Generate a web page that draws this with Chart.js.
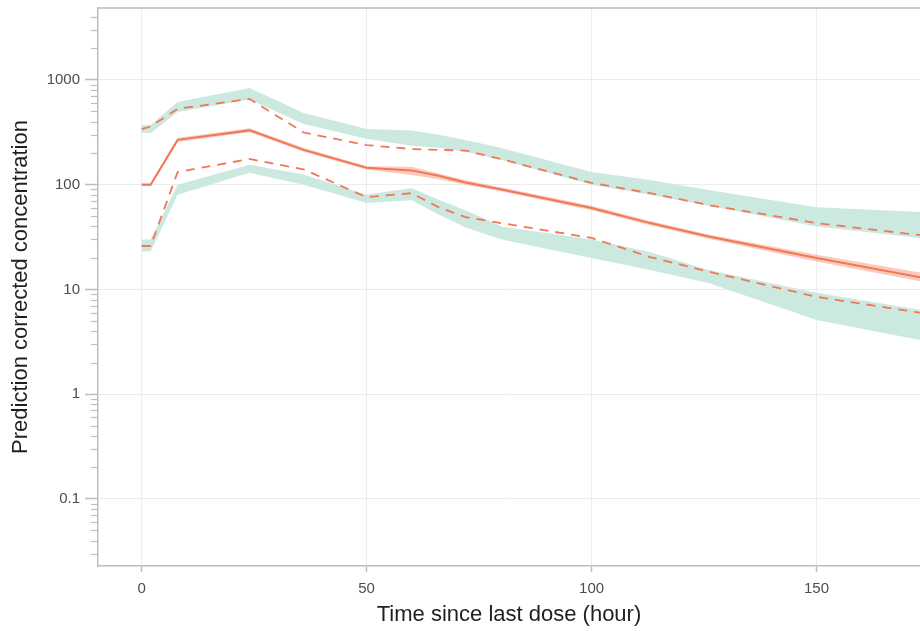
<!DOCTYPE html>
<html><head><meta charset="utf-8">
<script src="https://cdn.jsdelivr.net/npm/chart.js@4.4.1/dist/chart.umd.min.js"></script>
<style>html,body{margin:0;padding:0;background:#fff;overflow:hidden}canvas{display:block}</style>
</head><body>
<canvas id="c" width="920" height="631"></canvas>
<script>
// ---- data ----
const timeBins   = [0, 2, 8, 24, 36, 50, 60, 66, 72, 80, 100, 113, 126, 150, 173];
// observed percentiles (lines)
const obsMedian  = [100, 100, 268, 330, 215, 145, 137, 122, 105, 90, 60, 43, 32, 20, 13.1];
const obsP95     = [340, 360, 530, 659, 315, 239, 219, 215, 212, 175, 104, 83, 64, 43, 33];
const obsP5      = [26, 26, 132, 176, 140, 76, 83, 61, 49, 43, 31, 20.4, 14.8, 8.5, 6.0];
// simulated confidence intervals (shaded bands)
const ciP95Hi    = [372, 372, 617, 840, 484, 340, 330, 300, 267, 224, 132, 111, 89, 61, 55];
const ciP95Lo    = [312, 312, 494, 650, 380, 275, 235, 225, 206, 172, 100, 80, 63, 40, 31];
const ciP5Hi     = [30, 30, 100, 155, 125, 80, 93, 72, 57, 40, 30, 22.8, 15.3, 9.3, 6.4];
const ciP5Lo     = [23, 23, 80, 130, 100, 67, 71, 52, 39, 30, 20, 15.3, 11.5, 5.1, 3.3];
const ciMedHi    = [103, 103, 280, 345, 225, 150, 148, 128, 110, 94, 63, 45, 33.5, 21.5, 14.5];
const ciMedLo    = [97, 97, 255, 318, 206, 140, 124, 113, 100, 86, 57, 41, 30.5, 18.5, 12.0];
// axis ticks
const xTicks       = [0, 50, 100, 150];
const yMajorTicks  = [0.1, 1, 10, 100, 1000];
const yTickLabels  = ['0.1', '1', '10', '100', '1000'];
const yMinorMult   = [2, 3, 4, 5, 6, 7, 8, 9];

const pts = arr => timeBins.map((t, i) => ({x: t, y: arr[i]}));

const GREEN = '#cbe9df';
const ORANGE = '#f07856';
const SALMON = 'rgba(246,160,135,0.55)';
const FONT = '"Liberation Sans", Arial, Helvetica, sans-serif';

const band = (hi, lo, color, hiIndex) => ([
  {data: pts(hi), borderWidth: 0, pointRadius: 0, fill: false, backgroundColor: color, order: 2},
  {data: pts(lo), borderWidth: 0, pointRadius: 0, fill: hiIndex, backgroundColor: color, order: 2}
]);

const datasets = [
  ...band(ciP95Hi, ciP95Lo, GREEN, 0),   // 0,1
  ...band(ciP5Hi, ciP5Lo, GREEN, 2),     // 2,3
  ...band(ciMedHi, ciMedLo, SALMON, 4),  // 4,5
  {data: pts(obsMedian), borderColor: ORANGE, borderWidth: 2, pointRadius: 0, fill: false, order: 0},
  {data: pts(obsP95), borderColor: ORANGE, borderWidth: 1.8, borderDash: [9, 7], pointRadius: 0, fill: false, order: 0},
  {data: pts(obsP5), borderColor: ORANGE, borderWidth: 1.8, borderDash: [9, 7], pointRadius: 0, fill: false, order: 0}
];

const yTickObjs = [];
for (let k = -2; k <= 3; k++) {
  const base = Math.pow(10, k);
  const mi = yMajorTicks.findIndex(v => Math.abs(v - base) < base * 1e-9);
  if (mi >= 0) yTickObjs.push({value: yMajorTicks[mi], major: true, label: yTickLabels[mi]});
  yMinorMult.forEach(m => {
    const v = m * base;
    if (v >= 0.03 && v <= 4500) yTickObjs.push({value: v, major: false, label: ''});
  });
}

const extras = {
  id: 'extras',
  afterDraw(chart) {
    const {ctx, chartArea, scales: {y}} = chart;
    ctx.save();
    ctx.strokeStyle = '#bdbdbd';
    ctx.lineWidth = 1.2;
    y.ticks.forEach(t => {
      if (!t.major) {
        const py = Math.round(y.getPixelForValue(t.value)) + 0.5;
        ctx.beginPath(); ctx.moveTo(chartArea.left - 7, py); ctx.lineTo(chartArea.left, py); ctx.stroke();
      }
    });
    ctx.lineWidth = 1.5;
    ctx.beginPath(); ctx.moveTo(chartArea.left, chartArea.top); ctx.lineTo(chartArea.right, chartArea.top); ctx.stroke();
    ctx.restore();
  }
};

new Chart(document.getElementById('c'), {
  type: 'line',
  data: {datasets},
  plugins: [extras],
  options: {
    responsive: false,
    animation: false,
    events: [],
    layout: {padding: {top: 8, right: 0, left: 0, bottom: 0}},
    plugins: {legend: {display: false}, tooltip: {enabled: false}, filler: {propagate: false}},
    elements: {line: {tension: 0}},
    scales: {
      x: {
        type: 'linear', min: -9.7, max: 173,
        afterBuildTicks: s => { s.ticks = xTicks.map(v => ({value: v})); },
        afterFit: s => { s.height = 65; s.paddingLeft = 0; s.paddingRight = 0; },
        ticks: {font: {family: FONT, size: 15}, color: '#4d4d4d', padding: 8, maxRotation: 0, autoSkip: false,
                callback: v => String(v)},
        grid: {color: '#ececec', lineWidth: 1, tickLength: 6, tickColor: '#bdbdbd', tickWidth: 1.5},
        border: {color: '#bdbdbd', width: 1.5},
        title: {display: true, text: 'Time since last dose (hour)', font: {family: FONT, size: 22},
                color: '#1f1f1f', padding: {top: 0, bottom: 3}}
      },
      y: {
        type: 'logarithmic', min: 0.0229, max: 4864,
        afterBuildTicks: s => { s.ticks = yTickObjs.map(t => ({value: t.value, major: t.major})); },
        afterFit: s => { s.width = 98; s.paddingTop = 0; s.paddingBottom = 0; },
        ticks: {font: {family: FONT, size: 15}, color: '#4d4d4d', padding: 5, autoSkip: false,
                callback: (v, i) => yTickObjs[i] ? yTickObjs[i].label : ''},
        grid: {
          color: c => (c.tick && c.tick.major) ? '#ececec' : 'rgba(0,0,0,0)',
          lineWidth: 1, tickLength: 13,
          tickColor: c => (c.tick && c.tick.major) ? '#bdbdbd' : 'rgba(0,0,0,0)',
          tickWidth: 1.5
        },
        border: {color: '#bdbdbd', width: 1.5},
        title: {display: true, text: 'Prediction corrected concentration', font: {family: FONT, size: 22},
                color: '#1f1f1f', padding: {top: 8, bottom: 0}}
      }
    }
  }
});
</script>
</body></html>
